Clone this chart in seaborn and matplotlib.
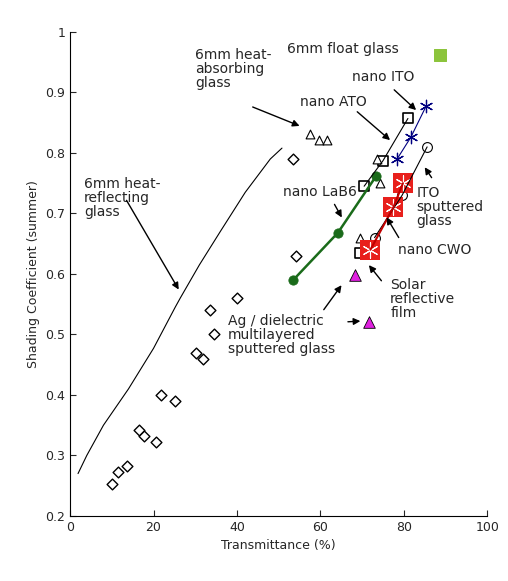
import matplotlib
matplotlib.use("Agg")
import matplotlib.pyplot as plt
import seaborn as sns
import numpy as np

sns.set_style("white")
plt.rcParams['font.family'] = ['Verdana', 'DejaVu Sans']

refl_x = [1.9, 4, 8, 14, 20, 25.2, 26.4, 31, 36, 42, 48, 50.8]
refl_y = [0.27, 0.30, 0.35, 0.41, 0.477, 0.545, 0.56, 0.615, 0.67, 0.735, 0.79, 0.808]
diam_x = [10, 11.4, 13.6, 16.6, 17.7, 20.6, 21.9, 25.2, 30.2, 31.9, 34.5, 33.6, 40, 53.5, 54.2]
diam_y = [0.253, 0.273, 0.282, 0.342, 0.332, 0.322, 0.40, 0.39, 0.47, 0.46, 0.50, 0.54, 0.56, 0.79, 0.63]
abs_x = [57.5, 59.7, 61.6]
abs_y = [0.832, 0.822, 0.822]
ato_x = [69.5, 70.5, 75, 81]
ato_y = [0.635, 0.745, 0.787, 0.857]
atotri_x = [69.5, 74.4, 73.5]
atotri_y = [0.66, 0.75, 0.79]
ito_x = [78.4, 81.7, 85.4]
ito_y = [0.79, 0.826, 0.878]
itos_x = [73, 79.6, 85.6]
itos_y = [0.66, 0.73, 0.81]
cwo_x = [72, 77.5, 79.8]
cwo_y = [0.64, 0.71, 0.75]
lab_x = [53.5, 64.2, 73.4]
lab_y = [0.59, 0.668, 0.762]
ag_x = [68.3, 71.7]
ag_y = [0.598, 0.52]
float_x = [88.7]
float_y = [0.962]

fig = plt.figure(figsize=(5.08, 5.81), dpi=100)
ax = fig.add_axes([0.138, 0.112, 0.821, 0.833])

sns.lineplot(x=refl_x, y=refl_y, ax=ax, color='black', lw=0.8, sort=False)
sns.scatterplot(x=diam_x, y=diam_y, ax=ax, marker='D', s=30, facecolor='white', edgecolor='black', linewidth=1)
sns.scatterplot(x=abs_x, y=abs_y, ax=ax, marker='^', s=40, facecolor='white', edgecolor='black', linewidth=0.8)
sns.lineplot(x=ato_x[1:], y=ato_y[1:], ax=ax, color='black', lw=0.8, sort=False)
sns.scatterplot(x=ato_x, y=ato_y, ax=ax, marker='s', s=55, facecolor='white', edgecolor='black', linewidth=1.2)
sns.scatterplot(x=atotri_x, y=atotri_y, ax=ax, marker='^', s=40, facecolor='white', edgecolor='black', linewidth=0.8)
sns.lineplot(x=ito_x, y=ito_y, ax=ax, color='#000080', lw=0.8, sort=False)
sns.scatterplot(x=ito_x, y=ito_y, ax=ax, marker=(6, 2, 0), s=80, color='#000080', linewidth=0.9)
sns.lineplot(x=itos_x, y=itos_y, ax=ax, color='black', lw=0.8, sort=False)
sns.scatterplot(x=itos_x, y=itos_y, ax=ax, marker='o', s=50, facecolor='white', edgecolor='black', linewidth=0.8)
sns.lineplot(x=cwo_x, y=cwo_y, ax=ax, color='#c00000', lw=1.5, sort=False)
sns.scatterplot(x=cwo_x, y=cwo_y, ax=ax, marker='s', s=200, color='#e8201c', edgecolor='#e8201c', linewidth=0)
sns.scatterplot(x=cwo_x, y=cwo_y, ax=ax, marker=(6, 2, 0), s=120, color='white', linewidth=0.8)
sns.lineplot(x=lab_x, y=lab_y, ax=ax, color='#1a6b1a', lw=1.8, sort=False)
sns.scatterplot(x=lab_x, y=lab_y, ax=ax, marker='o', s=45, color='#1a6b1a', edgecolor='#1a6b1a')
sns.scatterplot(x=ag_x, y=ag_y, ax=ax, marker='^', s=70, color='#e020e0', edgecolor='black', linewidth=0.6)
sns.scatterplot(x=float_x, y=float_y, ax=ax, marker='s', s=80, color='#8cc43c', edgecolor='#8cc43c')

ax.set_xlim(0, 100)
ax.set_ylim(0.2, 1.0)
ax.set_xticks([0, 20, 40, 60, 80, 100])
ax.set_yticks(np.arange(0.2, 1.01, 0.1))
ax.set_yticklabels(['0.2', '0.3', '0.4', '0.5', '0.6', '0.7', '0.8', '0.9', '1'])
ax.tick_params(direction='in', length=4, labelsize=9, left=True, bottom=True)
for s in ['top', 'right']:
    ax.spines[s].set_visible(False)
for s in ['left', 'bottom']:
    ax.spines[s].set_color('black')
ax.set_xlabel('Transmittance (%)', fontsize=9)
ax.set_ylabel('Shading Coefficient (summer)', fontsize=9)

def px(x, y):
    return ((x - 70) / 4.17, 1 - (y - 32) / 605)

fs = 10
ap = dict(arrowstyle='-|>', color='black', lw=1, mutation_scale=10)
def note(text, tx, ty):
    ax.annotate(text, xy=px(tx, ty), fontsize=fs, va='top', ha='left', linespacing=1.0)
def arrow(x0, y0, x1, y1):
    ax.annotate('', xy=px(x1, y1), xytext=px(x0, y0), arrowprops=ap)

note('6mm float glass', 287, 42)
note('nano ITO', 352, 70)
arrow(392, 88, 418, 112)
note('nano ATO', 300, 95)
arrow(355, 110, 392, 142)
note('6mm heat-\nabsorbing\nglass', 195, 48)
arrow(250, 106, 302, 127)
note('6mm heat-\nreflecting\nglass', 84, 177)
arrow(125, 198, 180, 292)
note('nano LaB6', 283, 185)
arrow(333, 202, 343, 220)
note('ITO\nsputtered\nglass', 416, 186)
arrow(433, 180, 423, 165)
note('nano CWO', 398, 243)
arrow(400, 240, 385, 215)
note('Solar\nreflective\nfilm', 390, 278)
arrow(383, 283, 367, 263)
note('Ag / dielectric\nmultilayered\nsputtered glass', 228, 314)
arrow(322, 312, 343, 283)
arrow(345, 322, 363, 321)

fig.savefig('out.png', dpi=100, facecolor='white')
